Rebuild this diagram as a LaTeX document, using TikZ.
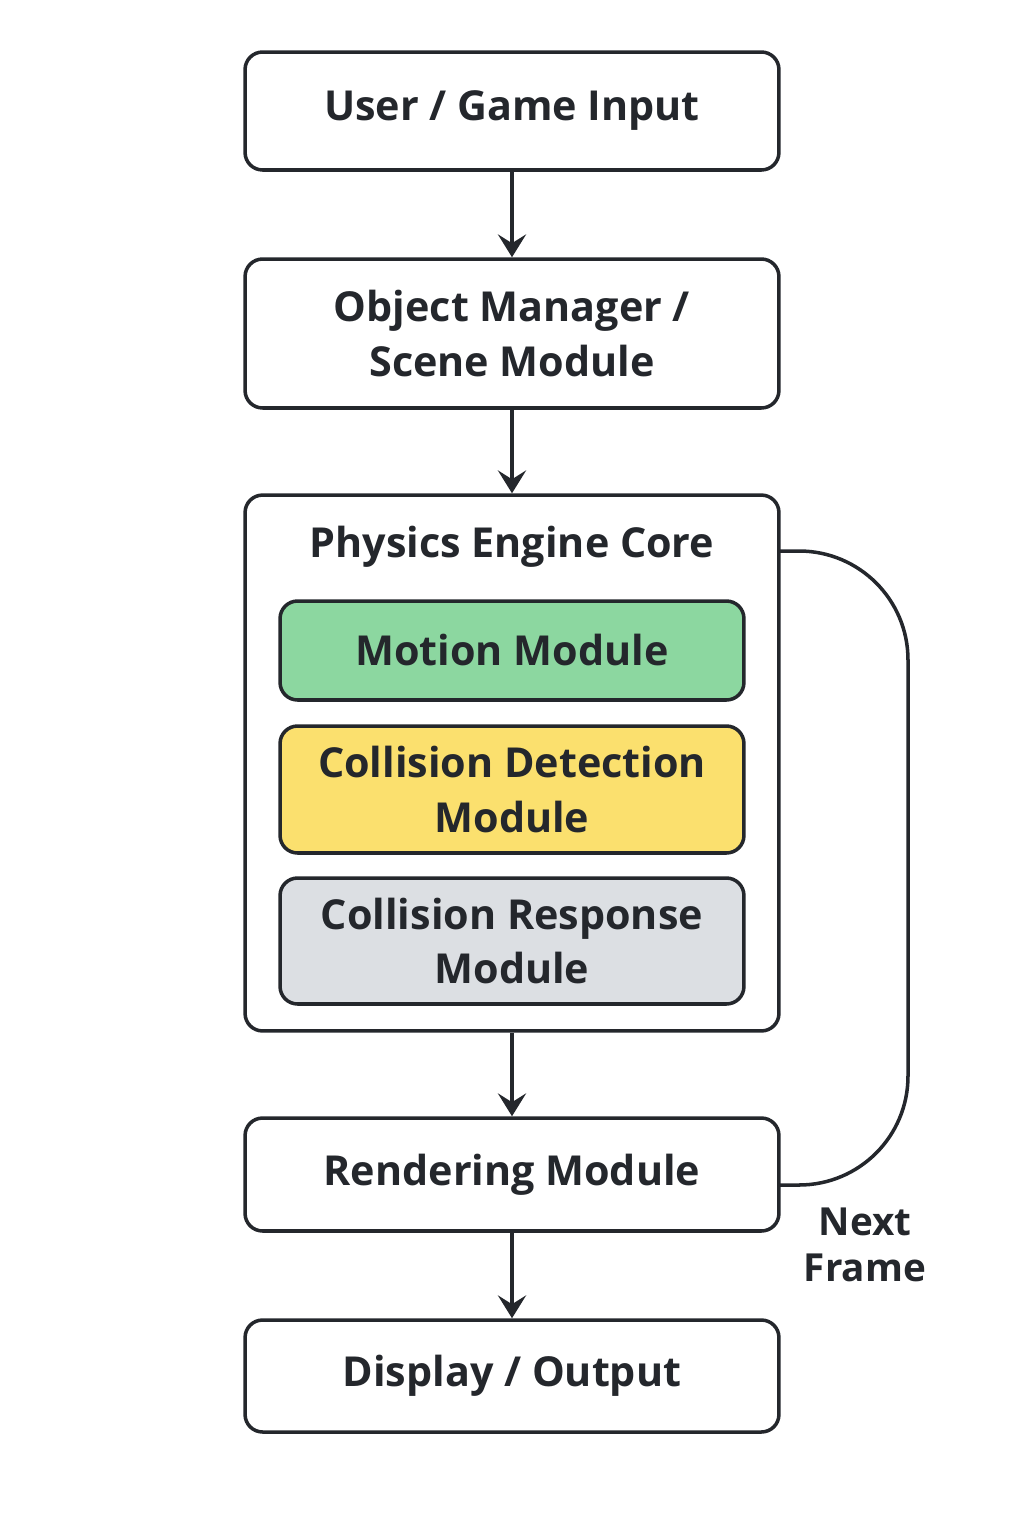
\documentclass[tikz,border=0pt]{standalone}
\usepackage{fontspec}
\setmainfont{Open Sans}
\usepackage{tikz}
\usetikzlibrary{arrows.meta, calc}
\definecolor{inkline}{HTML}{24272C}
\definecolor{motiongreen}{HTML}{8CD7A0}
\definecolor{detectyellow}{HTML}{FBE06E}
\definecolor{responsegray}{HTML}{DCDFE3}
\tikzset{
  box text/.style={
    text=inkline,
    align=center,
    font=\fontsize{23.5}{31}\selectfont\bfseries
  },
  stage box/.style={
    box text,
    draw=inkline,
    line width=2pt,
    rounded corners=10pt,
    fill=white,
    minimum width=10.68cm
  },
  sub box/.style={
    stage box,
    minimum width=9.28cm
  },
  flow/.style={
    -{Stealth[length=13pt, width=16pt, inset=5pt]},
    line width=2pt,
    draw=inkline
  },
  loop line/.style={
    line width=2pt,
    draw=inkline,
    rounded corners=62pt
  }
}
\begin{document}
\begin{tikzpicture}[x=0.02cm, y=-0.02cm]
  \useasboundingbox (0,0) rectangle (1024,1536);

  % main stages
  \node[stage box, minimum height=2.36cm] (input) at (512, 111) {User / Game Input};
  \node[stage box, minimum height=2.98cm] (scene) at (512, 333.5) {Object Manager /\\Scene Module};
  \node[stage box, minimum height=10.72cm] (core) at (512, 763) {};
  \node[box text] (coretitle) at (512, 547) {Physics Engine Core};

  % sub modules inside the core
  \node[sub box, fill=motiongreen, minimum height=1.98cm] (motion) at (512, 650.5) {Motion Module};
  \node[sub box, fill=detectyellow, minimum height=2.54cm] (detect) at (512, 789.5) {Collision Detection\\Module};
  \node[sub box, fill=responsegray, minimum height=2.52cm] (response) at (512, 941) {Collision Response\\Module};

  \node[stage box, minimum height=2.26cm] (render) at (512, 1174.5) {Rendering Module};
  \node[stage box, minimum height=2.24cm] (output) at (512, 1376) {Display / Output};

  % arrows
  \draw[flow] (input) -- (scene);
  \draw[flow] (scene) -- (core);
  \draw[flow] (core) -- (render);
  \draw[flow] (render) -- (output);

  % next frame loop
  \coordinate (loopstart) at ($(core.east |- 0,551) + (-1,0)$);
  \coordinate (loopend) at ($(render.east |- 0,1185) + (-1,0)$);
  \draw[loop line] (loopstart) -- (908, 551) -- (908, 1185) -- (loopend);
  \node[box text, font=\fontsize{22}{26}\selectfont\bfseries] (nextframe) at (865, 1245) {Next\\Frame};
\end{tikzpicture}
\end{document}
